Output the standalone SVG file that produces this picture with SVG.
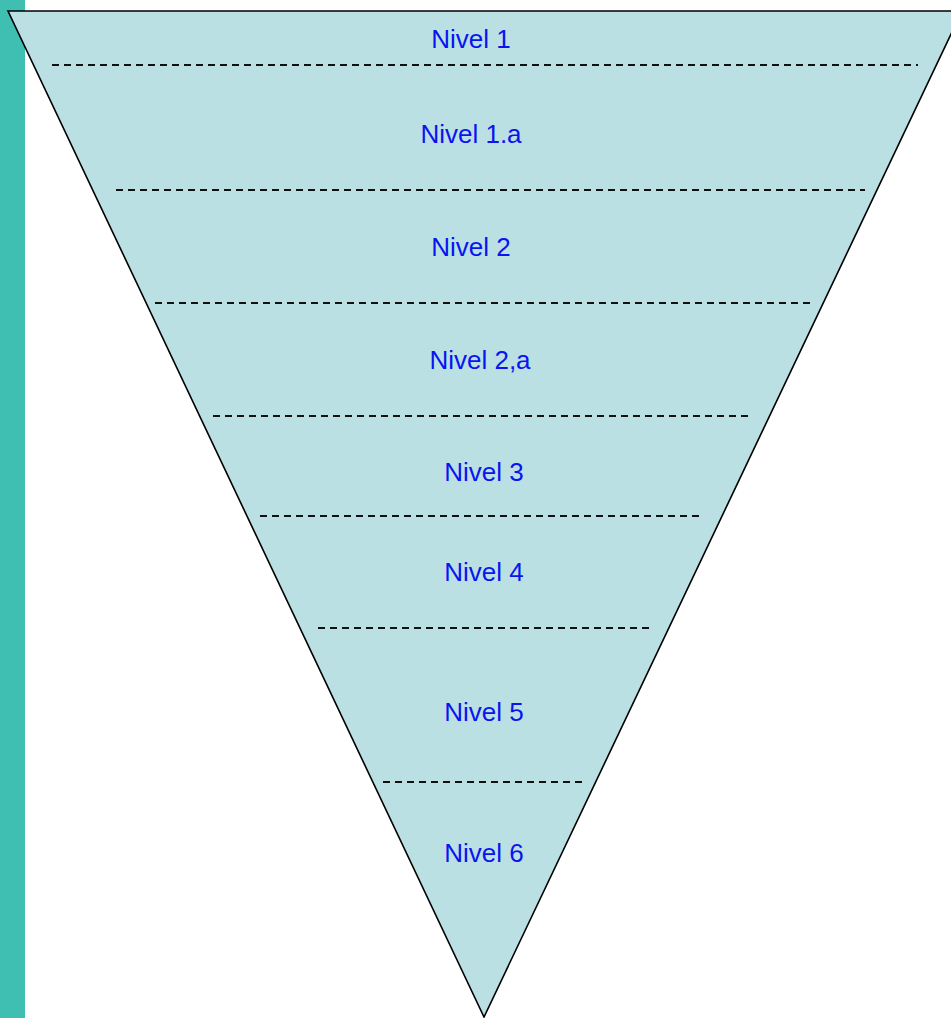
<svg xmlns="http://www.w3.org/2000/svg" width="951" height="1018" viewBox="0 0 951 1018">
<style>
.lbl{font-family:"Liberation Sans",Arial,sans-serif;font-size:26px;fill:#0a14f0;text-anchor:middle}
.dash{stroke:#111;stroke-width:1.8;stroke-dasharray:7 5;fill:none}
</style>
<rect width="951" height="1018" fill="#fff"/>
<rect x="0" y="0" width="25" height="1018" fill="#3fbfb1"/>
<g id="triangle">
<polygon points="8,11 962,11 484,1017" fill="#bae0e3" stroke="#000" stroke-width="1.6"/>
</g>
<g id="connectors">
<line class="dash" x1="52" y1="65" x2="918" y2="65"/>
<line class="dash" x1="116" y1="190" x2="865" y2="190"/>
<line class="dash" x1="155" y1="303" x2="815" y2="303"/>
<line class="dash" x1="213" y1="416" x2="750" y2="416"/>
<line class="dash" x1="260" y1="516" x2="700" y2="516"/>
<line class="dash" x1="318" y1="628" x2="650" y2="628"/>
<line class="dash" x1="383" y1="782" x2="586" y2="782"/>
</g>
<g id="n1"><text class="lbl" x="471" y="48">Nivel 1</text></g>
<g id="n1a"><text class="lbl" x="471" y="143">Nivel 1.a</text></g>
<g id="n2"><text class="lbl" x="471" y="256">Nivel 2</text></g>
<g id="n2a"><text class="lbl" x="480" y="369">Nivel 2,a</text></g>
<g id="n3"><text class="lbl" x="484" y="481">Nivel 3</text></g>
<g id="n4"><text class="lbl" x="484" y="581">Nivel 4</text></g>
<g id="n5"><text class="lbl" x="484" y="721">Nivel 5</text></g>
<g id="n6"><text class="lbl" x="484" y="862">Nivel 6</text></g>
</svg>
